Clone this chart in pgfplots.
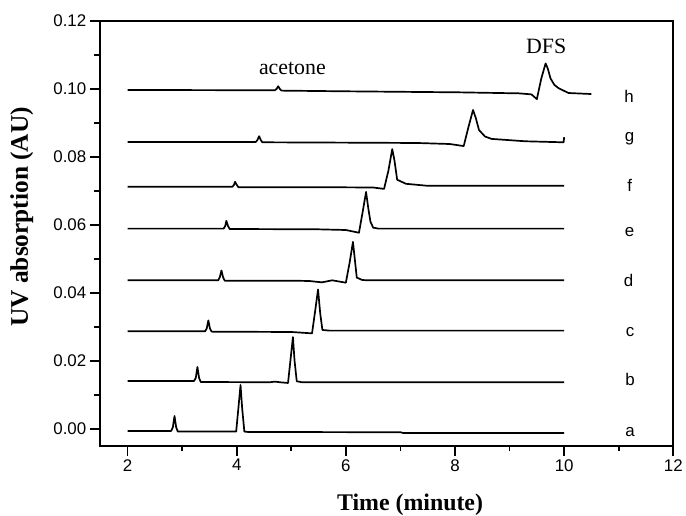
\documentclass[border=0pt]{standalone}
\usepackage{fontspec}
\setmainfont{Liberation Sans}
\newfontfamily\seriffont{Liberation Serif}
\usepackage{pgfplots}
\pgfplotsset{compat=1.18}
\pgfplotscreateplotcyclelist{mono}{black,solid,line width=1.7bp,line join=round\\}
\begin{document}
\begin{tikzpicture}
\begin{axis}[
  width=575bp, height=426bp, scale only axis,
  xmin=1.49, xmax=12, ymin=-0.005, ymax=0.12,
  xtick={2,4,6,8,10,12},
  ytick={0,0.02,0.04,0.06,0.08,0.10,0.12},
  minor x tick num=1, minor y tick num=1,
  tick align=outside, tick pos=left,
  major tick length=10bp, minor tick length=5.5bp,
  scaled y ticks=false,
  yticklabel style={/pgf/number format/.cd, fixed, fixed zerofill, precision=2},
  /pgf/number format/assume math mode=true,
  ticklabel style={font=\fontsize{17}{20}\selectfont},
  axis line style={line width=1.9bp},
  every tick/.style={line width=1.6bp, black},
  xlabel={Time (minute)},
  ylabel={UV absorption (AU)},
  xlabel style={font=\seriffont\bfseries\fontsize{24}{28}\selectfont, at={(axis description cs:0.541,-0.152)}, anchor=base, inner sep=0pt},
  ylabel style={font=\seriffont\bfseries\fontsize{25.5}{30}\selectfont, at={(axis description cs:-0.136,0.539)}, anchor=center},
  cycle list name=mono,
  no markers,
]
% a
\addplot coordinates {(2.0,-0.0006) (2.80,-0.0006) (2.83,0.0005) (2.86,0.0038) (2.89,0.0005) (2.92,-0.0008) (3.5,-0.0008) (3.99,-0.0008) (4.03,0.006) (4.07,0.0129) (4.10,0.006) (4.14,-0.0008) (4.2,-0.0009) (7.0,-0.0010) (7.05,-0.0012) (10,-0.0012)};
% b
\addplot coordinates {(2.0,0.0141) (3.22,0.0141) (3.25,0.0150) (3.28,0.0182) (3.31,0.0150) (3.34,0.0138) (4.6,0.0137) (4.7,0.0139) (4.8,0.0137) (4.94,0.0135) (4.99,0.021) (5.03,0.0270) (5.06,0.020) (5.10,0.0140) (5.2,0.0137) (10,0.0137)};
% c
\addplot coordinates {(2.0,0.0287) (3.42,0.0287) (3.45,0.0295) (3.48,0.0319) (3.51,0.0295) (3.54,0.0286) (5.0,0.0285) (5.38,0.0281) (5.44,0.035) (5.49,0.0410) (5.53,0.034) (5.57,0.0291) (5.7,0.0289) (10,0.0289)};
% d
\addplot coordinates {(2.0,0.0437) (3.66,0.0437) (3.69,0.0446) (3.72,0.0466) (3.75,0.0446) (3.78,0.0436) (5.0,0.0436) (5.33,0.0435) (5.56,0.0431) (5.75,0.0437) (6.0,0.0430) (6.07,0.049) (6.13,0.0550) (6.17,0.049) (6.20,0.0445) (6.3,0.0438) (6.4,0.0437) (10,0.0437)};
% e
\addplot coordinates {(2.0,0.0589) (3.76,0.0589) (3.79,0.0597) (3.81,0.0612) (3.84,0.0597) (3.87,0.0588) (5.5,0.0587) (6.0,0.0585) (6.24,0.0577) (6.31,0.064) (6.37,0.0697) (6.41,0.065) (6.45,0.061) (6.50,0.0592) (6.6,0.0589) (10,0.0589)};
% f
\addplot coordinates {(2.0,0.0712) (3.92,0.0712) (3.95,0.0718) (3.97,0.0727) (4.00,0.0718) (4.03,0.0711) (5.5,0.0711) (6.5,0.0710) (6.70,0.0706) (6.78,0.076) (6.85,0.0823) (6.89,0.079) (6.94,0.0733) (7.10,0.0721) (7.5,0.0715) (10,0.0715)};
% g
\addplot coordinates {(2.0,0.0844) (4.35,0.0844) (4.38,0.0850) (4.41,0.0861) (4.44,0.0850) (4.47,0.0843) (6.0,0.0842) (7.3,0.0841) (7.9,0.0838) (8.16,0.0832) (8.25,0.0890) (8.33,0.0938) (8.38,0.0915) (8.44,0.0879) (8.55,0.0860) (8.67,0.0853) (9.29,0.0846) (9.99,0.0843) (10.0,0.0858)};
% h
\addplot coordinates {(2.0,0.0997) (4.70,0.0996) (4.73,0.1000) (4.76,0.1008) (4.79,0.1000) (4.82,0.0995) (6.0,0.0993) (8.07,0.0990) (9.17,0.0987) (9.4,0.0984) (9.50,0.0970) (9.58,0.1030) (9.66,0.1075) (9.70,0.1060) (9.75,0.1031) (9.82,0.1012) (9.90,0.1002) (10.08,0.0988) (10.5,0.0985)};
% labels
\begin{scope}[every node/.style={font=\fontsize{17}{20}\selectfont, anchor=base}]
\node at (axis cs:11.21,-0.0021) {a};
\node at (axis cs:11.21,0.0129) {b};
\node at (axis cs:11.21,0.0272) {c};
\node at (axis cs:11.18,0.0419) {d};
\node at (axis cs:11.20,0.0565) {e};
\node at (axis cs:11.20,0.0697) {f};
\node at (axis cs:11.20,0.0844) {g};
\node at (axis cs:11.19,0.0961) {h};
\end{scope}
\node[font=\seriffont\fontsize{22}{26}\selectfont, anchor=base] at (axis cs:5.02,0.1043) {acetone};
\node[font=\seriffont\fontsize{22}{26}\selectfont, anchor=base] at (axis cs:9.67,0.1105) {DFS};
\end{axis}
\path ([shift={(-100bp,-70bp)}]current axis.south west) rectangle ([shift={(11bp,21bp)}]current axis.north east);
\end{tikzpicture}
\end{document}
